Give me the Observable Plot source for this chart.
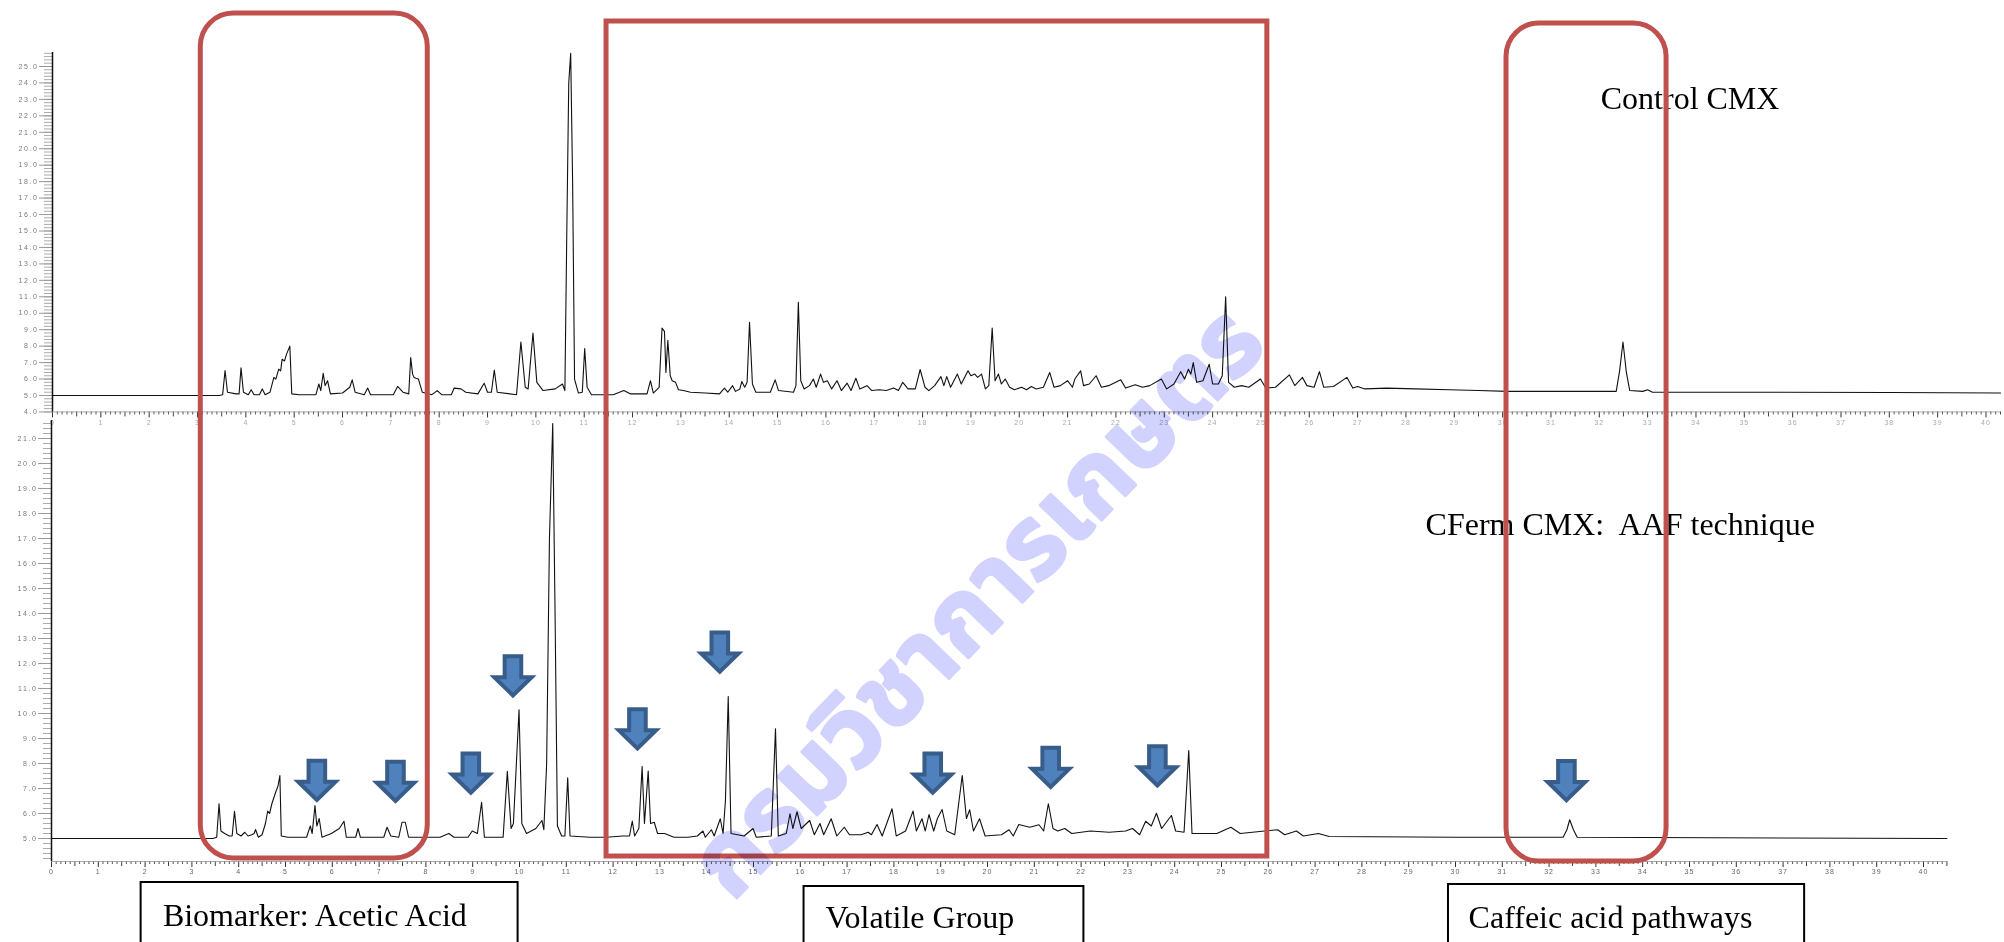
<!DOCTYPE html>
<html><head><meta charset="utf-8">
<script src="https://cdn.jsdelivr.net/npm/d3@7"></script>
<script src="https://cdn.jsdelivr.net/npm/@observablehq/plot@0.6"></script>
<style>
body{margin:0;background:#fff;}
#page{position:relative;width:2004px;height:942px;overflow:hidden;background:#fff;}
#page svg{position:absolute;left:0;top:0;overflow:visible;max-width:none;}
g[aria-label="y-axis tick label"] text{letter-spacing:1.6px;}
g[aria-label="x-axis tick label"] text{letter-spacing:1px;}
</style></head><body><div id="page"></div>
<script>
// ---------- DATA (retention time in min, signal) ----------
const controlTrace = [[0,5.0],[3.45,5.0],[3.52,5.05],[3.57,6.52],[3.62,5.2],[3.8,5.1],[3.86,5.1],[3.90,6.68],[3.95,5.2],[4.05,5.05],[4.11,5.35],[4.17,5.05],[4.28,5.05],[4.34,5.4],[4.40,5.05],[4.50,5.2],[4.58,6.1],[4.62,6.0],[4.68,6.6],[4.72,6.5],[4.75,7.2],[4.80,7.1],[4.84,7.5],[4.91,8.0],[4.95,5.1],[5.1,5.05],[5.45,5.05],[5.51,5.7],[5.55,5.3],[5.60,6.35],[5.64,5.6],[5.69,5.9],[5.75,5.1],[6.0,5.15],[6.15,5.5],[6.20,5.95],[6.26,5.2],[6.45,5.05],[6.52,5.45],[6.58,5.05],[7.05,5.05],[7.14,5.55],[7.25,5.2],[7.37,5.1],[7.41,7.3],[7.45,6.3],[7.48,6.1],[7.52,6.05],[7.57,6.0],[7.65,5.2],[7.85,5.05],[7.96,5.3],[8.05,5.05],[8.25,5.05],[8.31,5.45],[8.45,5.4],[8.55,5.2],[8.8,5.1],[8.93,5.75],[9.0,5.2],[9.08,5.2],[9.14,6.55],[9.2,5.2],[9.6,5.05],[9.69,8.25],[9.78,5.5],[9.84,5.4],[9.94,8.8],[10.02,5.8],[10.15,5.3],[10.4,5.4],[10.55,5.7],[10.6,5.3],[10.64,15.0],[10.68,24.0],[10.72,25.8],[10.76,18.0],[10.80,6.0],[10.88,5.15],[10.96,5.2],[11.01,7.85],[11.06,5.5],[11.15,5.05],[11.6,5.05],[11.82,5.3],[11.95,5.1],[12.3,5.1],[12.37,5.9],[12.43,5.15],[12.55,5.5],[12.61,9.1],[12.66,8.9],[12.69,6.4],[12.73,8.35],[12.78,6.2],[12.82,5.9],[12.89,5.8],[12.95,5.35],[13.05,5.3],[13.2,5.2],[13.5,5.15],[13.8,5.1],[13.90,5.45],[13.97,5.2],[14.07,5.6],[14.13,5.25],[14.22,5.4],[14.26,5.85],[14.32,5.5],[14.37,5.8],[14.42,9.45],[14.48,5.7],[14.55,5.2],[14.85,5.2],[14.95,5.95],[15.02,5.3],[15.33,5.2],[15.38,5.6],[15.43,10.67],[15.48,5.9],[15.55,5.4],[15.66,5.6],[15.74,6.0],[15.80,5.5],[15.89,6.3],[15.95,5.8],[16.03,5.9],[16.12,5.4],[16.23,5.9],[16.32,5.3],[16.44,5.75],[16.52,5.3],[16.62,6.05],[16.70,5.4],[16.85,5.6],[16.95,5.3],[17.1,5.35],[17.25,5.3],[17.4,5.45],[17.5,5.3],[17.59,5.8],[17.7,5.4],[17.85,5.4],[17.95,6.58],[18.05,5.5],[18.13,5.3],[18.25,5.6],[18.38,6.15],[18.44,5.6],[18.50,6.15],[18.58,5.5],[18.72,6.3],[18.8,5.7],[18.94,6.5],[19.0,6.2],[19.08,6.3],[19.14,6.1],[19.22,6.3],[19.3,5.4],[19.37,5.6],[19.44,9.1],[19.50,5.9],[19.57,6.3],[19.63,5.7],[19.71,6.0],[19.8,5.5],[19.9,5.35],[20.05,5.5],[20.15,5.35],[20.25,5.55],[20.35,5.4],[20.5,5.5],[20.63,6.4],[20.72,5.5],[20.85,5.6],[21.0,5.9],[21.1,5.5],[21.15,6.0],[21.27,6.5],[21.33,5.6],[21.45,5.7],[21.59,6.2],[21.7,5.5],[21.85,5.6],[22.1,5.95],[22.2,5.45],[22.4,5.65],[22.55,5.5],[22.7,5.6],[22.94,6.0],[23.05,5.4],[23.2,5.7],[23.34,6.45],[23.42,6.0],[23.5,6.6],[23.55,6.3],[23.6,7.0],[23.67,5.8],[23.8,5.9],[23.93,6.9],[24.0,5.7],[24.12,5.7],[24.2,6.2],[24.27,11.0],[24.33,5.8],[24.45,5.5],[24.6,5.6],[24.75,5.5],[24.99,6.0],[25.1,5.45],[25.3,5.5],[25.59,6.25],[25.7,5.6],[25.86,6.1],[25.95,5.6],[26.1,5.5],[26.21,6.45],[26.3,5.5],[26.5,5.55],[26.78,6.1],[26.9,5.45],[27.0,5.55],[27.15,5.4],[27.6,5.45],[28.2,5.4],[28.9,5.35],[29.5,5.3],[30.1,5.25],[31.0,5.25],[32.35,5.25],[32.42,6.5],[32.49,8.25],[32.56,6.4],[32.63,5.3],[32.9,5.25],[33.0,5.35],[33.1,5.2],[35.5,5.2],[38.0,5.18],[40.3,5.15]];

const cfermTrace = [[0,5.0],[3.45,5.0],[3.53,5.05],[3.58,6.39],[3.62,5.3],[3.7,5.2],[3.8,5.1],[3.86,5.1],[3.91,6.09],[3.96,5.2],[4.05,5.1],[4.13,5.25],[4.2,5.1],[4.28,5.15],[4.33,5.2],[4.36,5.36],[4.42,5.05],[4.5,5.15],[4.57,5.59],[4.62,6.1],[4.66,6.0],[4.71,6.4],[4.79,6.85],[4.84,7.1],[4.88,7.52],[4.91,5.1],[5.05,5.05],[5.45,5.05],[5.53,5.5],[5.57,5.2],[5.63,6.32],[5.67,5.5],[5.72,5.8],[5.78,5.05],[5.98,5.2],[6.15,5.4],[6.25,5.69],[6.3,5.05],[6.5,5.05],[6.55,5.4],[6.6,5.05],[7.1,5.05],[7.17,5.45],[7.25,5.1],[7.42,5.05],[7.49,5.65],[7.56,5.65],[7.63,5.05],[8.3,5.05],[8.49,5.2],[8.6,5.05],[8.9,5.05],[8.99,5.3],[9.1,5.2],[9.19,6.45],[9.25,5.05],[9.65,5.05],[9.74,7.69],[9.82,5.4],[9.87,5.6],[9.99,10.15],[10.05,5.6],[10.15,5.2],[10.35,5.4],[10.48,5.72],[10.52,5.35],[10.58,8.0],[10.64,17.0],[10.71,21.6],[10.76,14.0],[10.81,5.5],[10.9,5.1],[10.97,5.1],[11.03,7.43],[11.08,5.1],[11.5,5.05],[11.86,5.05],[12.2,5.1],[12.35,5.1],[12.41,5.7],[12.46,5.1],[12.55,5.4],[12.62,7.88],[12.67,5.6],[12.75,7.7],[12.8,5.6],[12.88,5.65],[12.95,5.2],[13.1,5.2],[13.3,5.05],[13.6,5.05],[13.8,5.1],[13.92,5.3],[13.97,5.05],[14.1,5.35],[14.16,5.1],[14.29,5.79],[14.35,5.2],[14.40,6.5],[14.46,10.68],[14.52,5.2],[14.8,5.1],[14.99,5.4],[15.06,5.05],[15.38,5.1],[15.47,9.39],[15.53,5.1],[15.7,5.2],[15.78,5.99],[15.84,5.4],[15.93,6.07],[16.02,5.4],[16.2,5.72],[16.3,5.15],[16.42,5.6],[16.5,5.15],[16.66,5.79],[16.78,5.1],[16.94,5.45],[17.05,5.15],[17.3,5.15],[17.45,5.25],[17.52,5.15],[17.64,5.56],[17.75,5.1],[17.96,6.19],[18.05,5.1],[18.25,5.3],[18.41,6.1],[18.48,5.3],[18.6,5.79],[18.67,5.3],[18.75,5.96],[18.85,5.3],[18.93,5.8],[19.03,6.16],[19.13,5.3],[19.3,5.15],[19.46,7.52],[19.55,5.8],[19.62,6.15],[19.7,5.3],[19.83,5.79],[19.95,5.1],[20.3,5.15],[20.46,5.35],[20.55,5.1],[20.67,5.56],[20.9,5.45],[21.1,5.55],[21.2,5.3],[21.30,6.39],[21.4,5.4],[21.5,5.3],[21.65,5.4],[21.8,5.2],[22.2,5.3],[22.6,5.25],[22.95,5.3],[23.1,5.4],[23.25,5.15],[23.38,5.69],[23.5,5.5],[23.61,6.01],[23.72,5.4],[23.93,5.92],[24.02,5.3],[24.2,5.25],[24.30,8.52],[24.37,5.2],[24.9,5.2],[25.2,5.45],[25.4,5.2],[26.2,5.35],[26.35,5.15],[26.6,5.3],[26.75,5.1],[27.07,5.2],[27.3,5.08],[30.0,5.05],[32.3,5.05],[32.38,5.35],[32.44,5.75],[32.52,5.35],[32.6,5.05],[40.5,5.0]];

// marked compounds (arrow tips: time, signal) in the CFerm run
const arrowTimes  = [5.67, 7.35, 8.96, 9.86, 12.52, 14.28, 18.83, 21.35, 23.63, 32.37];
const arrowSignal = [6.43, 6.39, 6.72, 10.61, 8.49, 11.56, 6.72, 6.95, 7.01, 6.42];

// highlighted retention-time regions
const regionNames = ["Biomarker: Acetic Acid", "Volatile Group", "Caffeic acid pathways"];
const regionStart = [3.19, 11.86, 31.09];
const regionEnd   = [8.04, 25.98, 34.51];

const traceNames = ["Control CMX", "CFerm CMX:\u00a0 AAF technique"];
const watermark = "กรมวิชาการเกษตร";

// ---------- LAYOUT ----------
const serif = "'Liberation Serif','Times New Roman',serif";
const sans = "'Liberation Sans',Arial,sans-serif";
const red = "#c0504d";
const regionTop = [38.0, 37.68, 37.6], regionBottom = [4.2, 4.28, 4.08];
const labelBox = {x1:[1.915,16.08,29.85], x2:[9.97,22.06,37.46], y1:[3.24,3.08,3.16], tx:[2.38,16.54,30.28], ty:[1.92,1.82,1.82]};

const ctrl = controlTrace.map(([t, v]) => ({t, v}));
const cferm = cfermTrace.map(([t, v]) => ({t, v}));
const arrows = arrowTimes.map((t, i) => ({t, v: arrowSignal[i]}));
const regions = regionNames.map((name, i) => ({name, x1: regionStart[i], x2: regionEnd[i], y1: regionBottom[i], y2: regionTop[i],
  bx1: labelBox.x1[i], bx2: labelBox.x2[i], by1: labelBox.y1[i], tx: labelBox.tx[i], ty: labelBox.ty[i]}));

const blockArrow = {draw(ctx) {
  ctx.moveTo(-8.3, -42); ctx.lineTo(8.3, -42); ctx.lineTo(8.3, -21); ctx.lineTo(18.7, -21);
  ctx.lineTo(0, -2.8); ctx.lineTo(-18.7, -21); ctx.lineTo(-8.3, -21); ctx.closePath();
}};

function rulerAxes(xMax, yMin, yMax, labelFill) {
  const xr = d3.range(0, Math.round(xMax * 10) + 1);
  const yr = d3.range(Math.ceil(yMin * 5), Math.floor(yMax * 5) + 1).map(i => i / 5);
  return [
    Plot.axisX(xr.filter(i => i % 5 !== 0).map(i => i / 10), {tickSize: 3, stroke: "#555", tickFormat: () => ""}),
    Plot.axisX(xr.filter(i => i % 10 === 5).map(i => i / 10), {tickSize: 5, stroke: "#444", tickFormat: () => ""}),
    Plot.axisX(xr.filter(i => i % 10 === 0).map(i => i / 10), {tickSize: 6, stroke: "#333", tickPadding: 2, fontSize: 7, fill: labelFill, tickFormat: d3.format("d")}),
    Plot.ruleY([yMin], {stroke: "#999", strokeWidth: 0.8}),
    Plot.axisY(yr, {tickSize: 8, stroke: "#aaa", tickFormat: () => ""}),
    Plot.axisY(d3.range(Math.ceil(yMin), Math.floor(yMax) + 1), {tickSize: 13, stroke: "#999", tickPadding: 1, fontSize: 7, fill: "#777", tickFormat: d3.format(".1f")}),
    Plot.ruleX([0], {stroke: "#111", strokeWidth: 1.5})
  ];
}

const topPlot = Plot.plot({
  width: 2004, height: 440,
  marginLeft: 52, marginRight: 4, marginTop: 52, marginBottom: 28.55,
  x: {domain: [0, 40.3], label: null},
  y: {domain: [4.0, 25.85], label: null},
  style: {background: "transparent", fontFamily: sans, overflow: "visible"},
  marks: [
    ...rulerAxes(40.3, 4.0, 25.85, "#aaa"),
    Plot.line(ctrl, {x: "t", y: "v", stroke: "#111", strokeWidth: 1.1}),
    Plot.text([traceNames[0]], {x: 32.03, y: 23.03, text: d => d, textAnchor: "start", fontSize: 32, fontFamily: serif, fill: "#000"})
  ]
});

const botPlot = Plot.plot({
  width: 2004, height: 942,
  marginLeft: 51, marginRight: 57.6, marginTop: 420, marginBottom: 81,
  x: {domain: [0, 40.5], label: null},
  y: {domain: [4.08, 21.72], label: null},
  style: {background: "transparent", fontFamily: sans, overflow: "visible"},
  marks: [
    ...rulerAxes(40.5, 4.08, 21.72, "#666"),
    Plot.line(cferm, {x: "t", y: "v", stroke: "#111", strokeWidth: 1.1}),
    Plot.text([traceNames[1]], {x: 29.36, y: 17.56, text: d => d, textAnchor: "start", fontSize: 32, fontFamily: serif, fill: "#000"}),
    Plot.rect(regions.filter((d, i) => i !== 1), {x1: "x1", x2: "x2", y1: "y1", y2: "y2", rx: 33, fill: "none", stroke: red, strokeWidth: 5, clip: false}),
    Plot.rect(regions.filter((d, i) => i === 1), {x1: "x1", x2: "x2", y1: "y1", y2: "y2", fill: "none", stroke: red, strokeWidth: 5, clip: false}),
    Plot.rect(regions, {x1: "bx1", x2: "bx2", y1: -1, y2: "by1", fill: "white", stroke: "#000", strokeWidth: 2}),
    Plot.text(regions, {x: "tx", y: "ty", text: "name", textAnchor: "start", fontSize: 32, fontFamily: serif, fill: "#000"}),
    Plot.dot(arrows, {x: "t", y: "v", symbol: blockArrow, r: 5, fill: "#4f81bd", stroke: "#385d8a", strokeWidth: 4, strokeLinejoin: "miter"}),
    Plot.text([watermark], {x: 19.79, y: 14.44, text: d => d, rotate: -46, fontSize: 100, fontWeight: "bold",
      fontFamily: "'Noto Sans Thai','Noto Sans Thai Looped','Loma','Garuda','Tlwg Typo','DejaVu Sans',sans-serif",
      fill: "#d2d2ff", stroke: "#d2d2ff", strokeWidth: 3, mixBlendMode: "multiply"})
  ]
});

const page = document.getElementById("page");
page.appendChild(topPlot);
page.appendChild(botPlot);
</script>
</body></html>
